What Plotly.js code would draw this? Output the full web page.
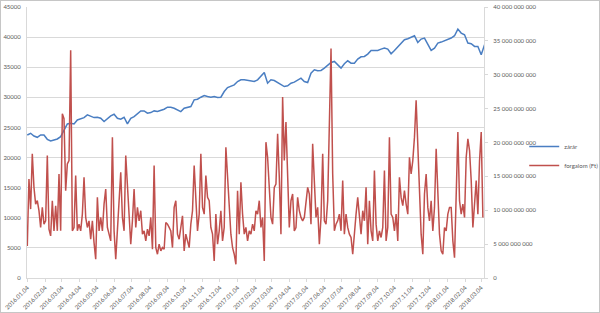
<!DOCTYPE html>
<html>
<head>
<meta charset="utf-8">
<script src="https://cdn.plot.ly/plotly-3.0.1.min.js"></script>
<style>
  html, body { margin: 0; padding: 0; background: #fff; }
  #wrap { position: relative; width: 600px; height: 313px; }
  #chart { width: 600px; height: 313px; }
  #frame { position: absolute; left: 0; top: 0; width: 600px; height: 313px; box-sizing: border-box; border: 1px solid #c6c6c6; pointer-events: none; }
</style>
</head>
<body>
<div id="wrap"><div id="chart"></div><div id="frame"></div></div>
<script>
// Series names
const seriesNames = ["zárár", "forgalom (Ft)"];

// Sampling: first observation date and sampling step (days) for each series
const startDate = "2016-01-04";
const closeStepDays = 5.81;
const turnoverStepDays = 2.905;

// Closing price (zárár), index points
const closeValues = [
  23751, 24029, 23584, 23363, 23751, 23751, 23030, 22752, 22919, 23085,
  23474, 24583, 25582, 25693, 25582, 26248, 26414, 26636, 27080, 26803,
  26636, 26692, 26525, 25970, 26525, 26913, 27191, 26525, 26359, 26692,
  25582, 26525, 26803, 27358, 27746, 27746, 27358, 27468, 27746, 27634,
  27801, 28023, 28356,
  28356, 28190, 27912, 27634, 28190, 28356, 28467, 29577, 29688, 30021,
  30297, 30131, 30021, 30131, 29965, 30021, 30963, 31629, 31795, 32073,
  32627, 32905, 32905, 32794, 32739, 32627, 32905, 33571, 34125, 32351,
  32905, 32794, 32461, 32073, 31795, 31906, 32351, 32517, 32794, 33183,
  32627, 32461, 34015, 34570, 34403,
  34459, 34848, 35402, 35790, 35956, 35402, 34848, 35568, 36067, 35680,
  35680, 36345, 36733, 36789, 37178, 37787, 37787, 37787, 38010, 38176,
  38010, 37233, 37787, 38343, 39009, 39563, 39729, 39951, 40229, 39119,
  39674, 39840, 38731, 37787, 38176, 39009, 39175, 39396, 39563, 39840,
  40229, 41340, 40672, 40395, 39009, 38897, 38453, 38453, 37067, 38731
];

// Turnover (forgalom), billion Ft
const turnoverBn = [
  4.74, 14.62, 10.17, 18.32, 13.38, 10.91, 11.41, 9.93, 7.46, 10.42,
  7.95, 8.44, 18.07, 7.21, 6.22, 11.41, 6.96, 10.67, 6.96, 15.36,
  6.96, 24.25, 23.51, 12.89, 16.84, 17.33, 33.63, 6.96, 7.46, 15.11,
  6.96, 7.95, 6.96, 9.43, 14.86, 8.94, 7.46, 8.44, 5.73, 8.44,
  5.23, 2.77, 11.90, 6.96, 8.94, 6.96, 10.91, 13.14, 7.46, 6.47,
  5.48, 20.79, 6.96, 2.77, 6.96, 12.40, 15.60, 8.94, 6.96, 18.07,
  13.38, 9.93, 4.99, 8.44, 13.14, 7.46, 10.42, 8.44, 9.93, 6.47,
  6.96, 5.48, 7.21, 6.22, 8.94, 4.25, 16.59, 4.49, 3.51, 4.99,
  4.00, 4.49, 4.25, 8.20, 7.95,
  7.46, 6.96, 4.49, 10.42, 11.41, 6.47, 5.73, 7.46, 9.19, 4.00,
  6.47, 5.48, 4.49, 7.95, 9.93, 16.59, 11.41, 6.96, 9.43, 18.32,
  10.42, 9.43, 15.11, 11.90, 11.41, 7.46, 6.47, 2.52, 9.43, 4.99,
  6.96, 9.93, 5.48, 7.46, 19.31, 15.36, 10.42, 6.47, 4.49, 3.51,
  2.02, 12.89, 6.47, 14.12, 9.43, 6.47, 7.46, 5.48, 6.96, 6.47,
  7.95, 6.96, 9.93, 9.43, 11.41, 7.46, 8.94, 2.52, 20.05, 17.83,
  13.38, 8.94, 7.95, 13.38, 13.88, 21.28, 14.86, 6.47, 26.72, 17.33,
  23.01, 15.85, 7.46, 11.41, 12.40, 6.96, 7.46, 11.90, 9.93, 8.94,
  8.44, 8.94, 11.41, 13.38, 12.40, 7.95, 19.80, 15.36, 8.94, 10.42,
  4.99, 8.94, 18.32, 8.44, 7.95, 11.41, 22.27, 33.88, 15.36, 6.96,
  7.95, 8.44, 9.43, 6.96, 14.37, 6.47, 9.43, 7.46, 6.47, 5.98,
  3.51, 6.96, 9.43, 11.90, 9.43, 6.47, 9.93, 8.44, 13.38, 4.99,
  11.41, 6.96, 5.48, 15.85, 7.95, 5.48, 6.96, 5.98, 7.46, 15.85,
  5.48, 7.46, 20.79, 9.43, 8.94, 6.96, 9.43, 5.48, 14.86, 11.90,
  10.67, 12.89, 10.91, 9.43, 17.83, 15.36, 17.33, 20.79, 26.22, 19.31,
  12.40, 6.47, 3.51, 12.40, 15.36, 10.42, 8.44, 11.41, 6.96, 10.42,
  19.06, 11.41, 6.47, 4.00, 3.51, 7.46, 6.96, 9.43, 10.42, 10.42,
  5.48, 3.01, 11.41, 21.53, 11.41, 9.43, 10.91, 8.94, 17.83, 20.54,
  18.81, 14.37, 7.46, 10.42, 14.37, 9.43, 17.33, 21.53, 8.94
];

// Axis tick setup
const leftTickStep = 5000;
const rightTickStep = 5e9;
const leftMax = 45000;
const rightMax = 40e9;
const xRange = ["2016-01-03 12:00", "2018-03-09"];

const DAY = 86400000;
const turnoverValues = turnoverBn.map(v => v * 1e9);

const traces = [
  {
    type: "scatter", mode: "lines", name: seriesNames[0],
    x0: startDate, dx: closeStepDays * DAY,
    y: closeValues, yaxis: "y",
    line: { color: "#4A7EC2", width: 1.5 }
  },
  {
    type: "scatter", mode: "lines", name: seriesNames[1],
    x0: startDate, dx: turnoverStepDays * DAY,
    y: turnoverValues, yaxis: "y2",
    line: { color: "#C0504D", width: 1.5 }
  }
];

const fontFamily = "Lato, 'Liberation Sans', sans-serif";
const tickFont = { family: fontFamily, size: 6, color: "#595959" };

const layout = {
  width: 600, height: 313,
  margin: { l: 27, r: 116, t: 7, b: 35, pad: 0, autoexpand: false },
  paper_bgcolor: "#ffffff", plot_bgcolor: "#ffffff",
  separators: ", ",
  showlegend: true,
  legend: {
    x: 1.088, xanchor: "left", y: 0.45, yanchor: "middle",
    font: { family: fontFamily, size: 6, color: "#595959" },
    bgcolor: "rgba(0,0,0,0)", tracegroupgap: 0
  },
  xaxis: {
    type: "date", range: xRange, autorange: false, automargin: false,
    tick0: startDate, dtick: "M1", tickformat: "%Y.%m.%d",
    tickangle: -45, tickfont: tickFont,
    showgrid: false, zeroline: false,
    showline: true, linecolor: "#d9d9d9", linewidth: 1,
    ticks: "outside", ticklen: 3, tickcolor: "#d9d9d9"
  },
  yaxis: {
    range: [0, leftMax], autorange: false, automargin: false, dtick: leftTickStep, tick0: 0,
    tickformat: "d", tickfont: tickFont,
    showgrid: true, gridcolor: "#d9d9d9", gridwidth: 1,
    zeroline: false, showline: true, linecolor: "#d9d9d9",
    ticks: "", ticklabelstandoff: 4
  },
  yaxis2: {
    overlaying: "y", side: "right", automargin: false,
    range: [0, rightMax], autorange: false, dtick: rightTickStep, tick0: 0,
    tickformat: ",d", tickfont: tickFont,
    showgrid: false, zeroline: false, showline: true, linecolor: "#d9d9d9",
    ticks: "outside", ticklen: 3, tickcolor: "#d9d9d9", ticklabelstandoff: 4
  }
};

Plotly.newPlot("chart", traces, layout, { displayModeBar: false, staticPlot: true });
</script>
</body>
</html>
